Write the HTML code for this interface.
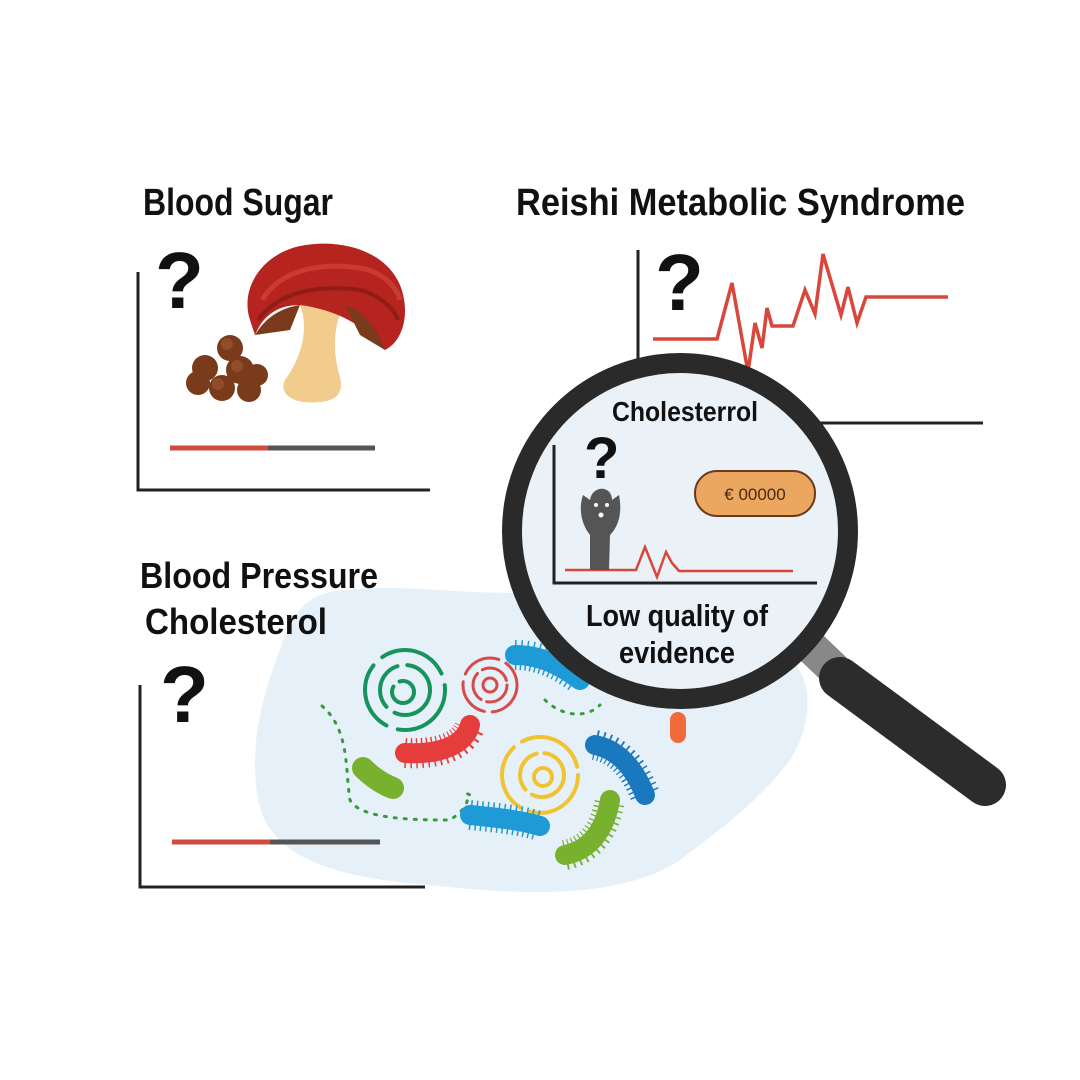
<!DOCTYPE html>
<html><head><meta charset="utf-8"><style>
html,body{margin:0;padding:0;background:#fff;width:1080px;height:1080px;overflow:hidden}
svg{display:block}
text{font-family:"Liberation Sans Narrow","Liberation Sans",sans-serif;font-weight:bold;fill:#111}
</style></head><body>
<svg width="1080" height="1080" viewBox="0 0 1080 1080" xmlns="http://www.w3.org/2000/svg">
<rect width="1080" height="1080" fill="#fff"/>
<!-- blob -->
<path d="M330,592 C400,580 480,600 560,590 C640,585 700,620 760,640 C820,660 815,720 790,760 C760,800 720,830 680,860 C620,900 520,895 430,885 C340,878 270,860 258,800 C248,740 265,690 280,650 C290,615 305,598 330,592 Z" fill="#e6f0f8"/>
<!-- titles -->
<text x="143" y="215" font-size="38" textLength="190" lengthAdjust="spacingAndGlyphs">Blood Sugar</text>
<text x="516" y="215" font-size="38" textLength="449" lengthAdjust="spacingAndGlyphs">Reishi Metabolic Syndrome</text>
<text x="140" y="588" font-size="36" textLength="238" lengthAdjust="spacingAndGlyphs">Blood Pressure</text>
<text x="145" y="634" font-size="36" textLength="182" lengthAdjust="spacingAndGlyphs">Cholesterol</text>
<!-- chart 1 -->
<path d="M138,272 V490 H430" stroke="#222" stroke-width="3" fill="none"/>
<text x="155" y="308" font-size="80" style="font-family:'Liberation Sans'">?</text>
<line x1="170" y1="448" x2="268" y2="448" stroke="#d24a3e" stroke-width="5"/>
<line x1="268" y1="448" x2="375" y2="448" stroke="#555" stroke-width="5"/>
<!-- mushroom -->
<path d="M300,305 C310,330 300,360 285,380 C278,395 295,405 320,402 C340,400 345,390 338,370 C332,345 335,320 345,305 Z" fill="#f2cc8c"/>
<path d="M250,320 C240,290 260,255 300,246 C340,238 385,250 400,285 C410,310 405,340 385,350 C370,330 340,310 300,305 C275,305 262,318 255,335 Z" fill="#b5241f"/>
<path d="M262,300 C280,270 320,262 360,268 C385,272 398,290 400,300" stroke="#c93a30" stroke-width="5" fill="none"/>
<path d="M258,320 C280,290 320,285 360,290 C380,295 395,310 398,320" stroke="#8f1c17" stroke-width="4" fill="none"/>
<path d="M255,335 C265,318 280,308 300,305 L290,330 Z" fill="#7a3b1d"/>
<path d="M345,305 C365,312 378,330 385,350 L360,335 Z" fill="#7a3b1d"/>
<g fill="#7a3a1c">
<circle cx="230" cy="348" r="13"/><circle cx="205" cy="368" r="13"/><circle cx="240" cy="370" r="14"/><circle cx="257" cy="375" r="11"/>
<circle cx="198" cy="383" r="12"/><circle cx="222" cy="388" r="13"/><circle cx="249" cy="390" r="12"/>
</g>
<g fill="#9b5530" opacity=".7"><circle cx="227" cy="344" r="6"/><circle cx="237" cy="366" r="6"/><circle cx="218" cy="384" r="6"/></g>
<!-- chart 2 -->
<path d="M638,250 V380" stroke="#222" stroke-width="3"/>
<line x1="815" y1="423" x2="983" y2="423" stroke="#222" stroke-width="3"/>
<text x="655" y="310" font-size="80" style="font-family:'Liberation Sans'">?</text>
<polyline points="653,339 717,339 732,283 748,372 755,323 762,348 767,308 772,326 793,326 805,290 815,314 823,254 841,315 848,287 857,323 866,297 948,297" fill="none" stroke="#d8463c" stroke-width="3.5"/>
<!-- chart 3 -->
<path d="M140,685 V887 H425" stroke="#222" stroke-width="3" fill="none"/>
<text x="160" y="722" font-size="80" style="font-family:'Liberation Sans'">?</text>
<line x1="172" y1="842" x2="270" y2="842" stroke="#d24a3e" stroke-width="5"/>
<line x1="270" y1="842" x2="380" y2="842" stroke="#555" stroke-width="5"/>
<!-- microbes -->
<g fill="none" stroke-linecap="round">
<g stroke="#17935e" stroke-width="4">
<circle cx="405" cy="690" r="40" stroke-dasharray="70 12"/><circle cx="405" cy="690" r="25" stroke-dasharray="50 10"/><circle cx="403" cy="692" r="11" stroke-dasharray="40 8"/>
</g>
<g stroke="#d84a4a" stroke-width="3">
<circle cx="490" cy="685" r="27" stroke-dasharray="40 8"/><circle cx="490" cy="685" r="17" stroke-dasharray="30 6"/><circle cx="490" cy="685" r="7"/>
</g>
<g stroke="#f0c430" stroke-width="4">
<circle cx="540" cy="775" r="38" stroke-dasharray="70 10"/><circle cx="542" cy="775" r="22" stroke-dasharray="45 8"/><circle cx="543" cy="777" r="9"/>
</g>
<path d="M322,706 C350,730 345,770 350,800 C360,820 420,820 450,820 C480,800 460,790 470,795" stroke="#3a9a3a" stroke-width="3" stroke-dasharray="2 8"/>
<path d="M545,700 C560,715 585,720 600,705" stroke="#3a9a3a" stroke-width="3" stroke-dasharray="2 8"/>
</g>
<g fill="none">
<path d="M405,753 C440,755 465,745 470,725" stroke="#e53c3c" stroke-width="30" stroke-dasharray="1.5 4"/>
<path d="M405,753 C440,755 465,745 470,725" stroke="#e53c3c" stroke-width="20" stroke-linecap="round"/>
<path d="M470,815 C500,818 520,820 540,826" stroke="#1e9ad6" stroke-width="30" stroke-dasharray="1.5 4"/>
<path d="M470,815 C500,818 520,820 540,826" stroke="#1e9ad6" stroke-width="20" stroke-linecap="round"/>
<path d="M595,745 C620,750 635,770 645,795" stroke="#1a78bf" stroke-width="30" stroke-dasharray="1.5 4"/>
<path d="M595,745 C620,750 635,770 645,795" stroke="#1a78bf" stroke-width="20" stroke-linecap="round"/>
<path d="M565,855 C590,850 605,830 610,800" stroke="#77b12e" stroke-width="30" stroke-dasharray="1.5 4"/>
<path d="M565,855 C590,850 605,830 610,800" stroke="#77b12e" stroke-width="20" stroke-linecap="round"/>
<path d="M515,655 C540,655 560,665 580,680" stroke="#1e9ad6" stroke-width="30" stroke-dasharray="1.5 4"/>
<path d="M515,655 C540,655 560,665 580,680" stroke="#1e9ad6" stroke-width="20" stroke-linecap="round"/>
<path d="M363,768 C375,780 385,785 393,788" stroke="#77b12e" stroke-width="22" stroke-linecap="round"/>
<path d="M678,720 V735" stroke="#f06a3a" stroke-width="16" stroke-linecap="round"/>
</g>
<!-- magnifier -->
<path d="M812,648 L835,670" stroke="#888" stroke-width="34"/>
<path d="M840,678 L985,785" stroke="#2c2c2c" stroke-width="42" stroke-linecap="round"/>
<circle cx="680" cy="531" r="168" fill="#eaf2f8" stroke="#2a2a2a" stroke-width="20"/>
<text x="612" y="421" font-size="28" textLength="146" lengthAdjust="spacingAndGlyphs">Cholesterrol</text>
<text x="584" y="478" font-size="58" style="font-family:'Liberation Sans'">?</text>
<path d="M554,445 V583 H817" stroke="#222" stroke-width="3" fill="none"/>
<polyline points="565,570 636,570 645,547 657,577 666,552 672,563 679,571 793,571" fill="none" stroke="#d8463c" stroke-width="2.5"/>
<path d="M590,570 L590,535 C582,525 578,510 583,495 L590,500 C592,485 612,485 612,500 L619,495 C622,510 620,525 610,535 L609,570 Z" fill="#555"/>
<circle cx="596" cy="505" r="2" fill="#fff"/><circle cx="607" cy="505" r="2" fill="#fff"/><circle cx="601" cy="515" r="2.5" fill="#fff"/>
<rect x="695" y="471" width="120" height="45" rx="22" fill="#eba760" stroke="#6b3a1a" stroke-width="2"/>
<text x="755" y="500" font-size="17" text-anchor="middle" style="font-family:'Liberation Sans';font-weight:normal;fill:#4a2a10">€ 00000</text>
<text x="677" y="626" font-size="31" text-anchor="middle" textLength="182" lengthAdjust="spacingAndGlyphs">Low quality of</text>
<text x="677" y="663" font-size="31" text-anchor="middle" textLength="116" lengthAdjust="spacingAndGlyphs">evidence</text>
</svg>
</body></html>
